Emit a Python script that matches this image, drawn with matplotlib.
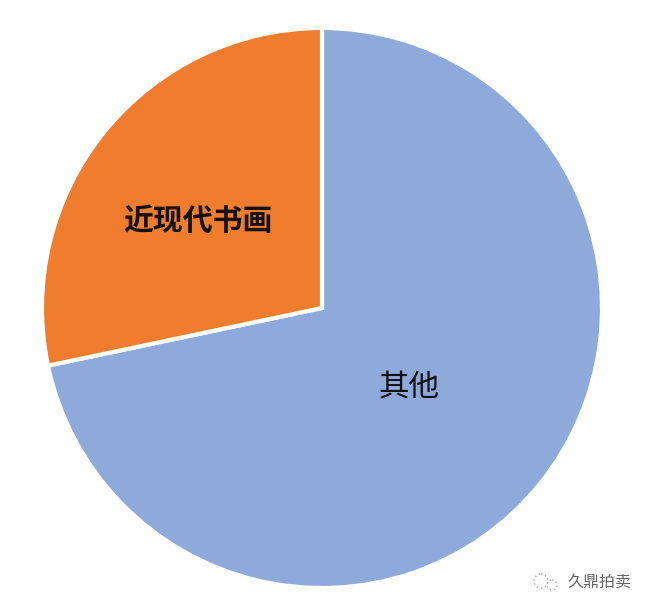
import matplotlib
matplotlib.use("Agg")
import matplotlib.pyplot as plt
from matplotlib.patches import Circle

plt.rcParams['font.family'] = ['Noto Sans CJK SC', 'DejaVu Sans']

categories = ['其他', '近现代书画']
values = [71.7, 28.3]
colors = ['#8eaadb', '#f07d2e']

W, H = 650, 610
fig = plt.figure(figsize=(W/100, H/100), dpi=100, facecolor='white')
cx, cy, r = 322, 308, 280
ax = fig.add_axes([(cx-r)/W, 1-(cy+r)/H, 2*r/W, 2*r/H])
ax.pie(values, colors=colors, startangle=90, counterclock=False, radius=1,
       wedgeprops=dict(edgecolor='white', linewidth=3))
ax.set_xlim(-1, 1)
ax.set_ylim(-1, 1)
ax.set_aspect('equal')
ax.axis('off')

fig.text(198/W, 1-221/H, categories[1], ha='center', va='center', fontsize=21.5, fontweight='bold', color='#111111')
fig.text(409/W, 1-388/H, categories[0], ha='center', va='center', fontsize=22, fontweight='medium', color='#111111')
fig.text(599/W, 1-582/H, '久鼎拍卖', ha='center', va='center', fontsize=11.5, color='#666666')

overlay = fig.add_axes([0, 0, 1, 1], facecolor='none')
overlay.set_xlim(0, W)
overlay.set_ylim(H, 0)
overlay.axis('off')
overlay.add_patch(Circle((541, 581), 7, fill=False, ec='#aaaaaa', lw=1, ls=(0, (1, 2))))
overlay.add_patch(Circle((552, 585), 5, fill=False, ec='#aaaaaa', lw=1, ls=(0, (1, 2))))
fig.savefig('out.png', dpi=100)
